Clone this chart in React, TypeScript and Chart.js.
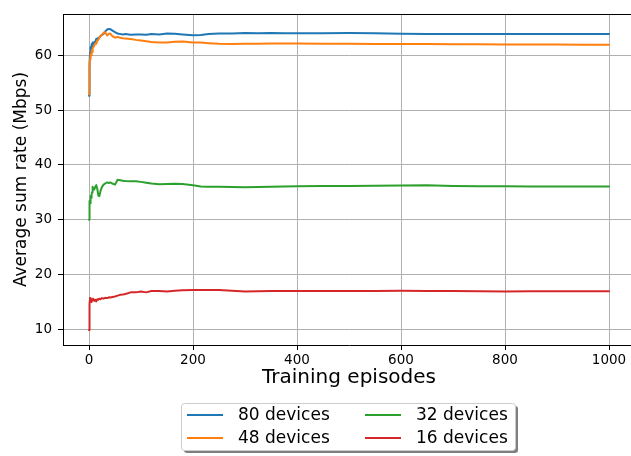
import React, { useEffect, useRef } from "react";
import { Chart, registerables } from "chart.js";

Chart.register(...registerables);

// ---------------- data ----------------
const episodes = [
  0, 1, 2, 3, 4, 5, 6, 7, 8, 10, 12, 14, 16, 18, 20, 22, 25, 28, 31, 35, 38, 41, 45, 50,
  55, 60, 65, 70, 80, 90, 100, 110, 120, 135, 150, 165, 180, 200,
  215, 230, 250, 275, 300, 325, 350, 375, 400,
  450, 500, 550, 600, 650, 700, 750, 800, 850, 900, 950, 1000,
];

const dev80 = [
  52.6, 58.5, 60.5, 61.5, 61.2, 62.0, 61.6, 62.3, 62.0, 62.4, 62.4, 63.0, 62.8, 63.2, 63.2, 63.5, 63.7, 63.9, 64.3, 64.7, 64.8, 64.75, 64.5, 64.2,
  63.95, 63.85, 63.8, 63.85, 63.75, 63.8, 63.8, 63.75, 63.85, 63.8, 63.95, 63.9, 63.8, 63.65,
  63.7, 63.85, 63.95, 63.95, 64.05, 64.0, 64.05, 64.0, 64.0,
  64.0, 64.05, 64.0, 63.9, 63.85, 63.85, 63.85, 63.85, 63.85, 63.85, 63.85, 63.85,
];

const dev48 = [
  52.9, 57.5, 59.3, 60.2, 60.0, 60.8, 60.6, 61.3, 61.4, 61.7, 62.2, 62.1, 62.7, 62.8, 63.2, 63.5, 63.7, 64.1, 64.2, 63.6, 63.9, 63.95, 63.5, 63.2,
  63.35, 63.2, 63.1, 63.05, 62.95, 62.8, 62.7, 62.55, 62.4, 62.3, 62.3, 62.45, 62.5, 62.3,
  62.3, 62.2, 62.1, 62.05, 62.1, 62.1, 62.15, 62.15, 62.15,
  62.1, 62.1, 62.05, 62.05, 62.05, 62.0, 62.0, 61.95, 61.95, 61.95, 61.9, 61.9,
];

const dev32 = [
  30.0, 33.4, 33.0, 34.3, 34.0, 34.6, 35.0, 36.0, 35.6, 35.5, 36.0, 36.3, 35.6, 34.4, 34.3, 35.2, 36.0, 36.4, 36.6, 36.8, 36.7, 36.8, 36.6, 36.4,
  37.3, 37.2, 37.1, 37.05, 37.0, 37.0, 36.9, 36.75, 36.6, 36.45, 36.5, 36.55, 36.5, 36.3,
  36.05, 36.0, 36.0, 35.95, 35.9, 35.95, 36.0, 36.05, 36.1,
  36.15, 36.15, 36.2, 36.25, 36.3, 36.15, 36.1, 36.1, 36.05, 36.05, 36.05, 36.05,
];

const dev16 = [
  9.9, 14.5, 15.7, 15.2, 15.4, 15.0, 15.5, 15.3, 15.6, 15.2, 15.4, 15.1, 15.5, 15.4, 15.6, 15.5, 15.7, 15.6, 15.75, 15.7, 15.85, 15.8, 15.9, 16.0,
  16.15, 16.3, 16.35, 16.45, 16.75, 16.75, 16.9, 16.75, 17.0, 17.0, 16.9, 17.05, 17.15, 17.2,
  17.2, 17.2, 17.2, 17.05, 16.9, 16.95, 17.0, 17.0, 17.0,
  17.0, 17.0, 17.0, 17.05, 17.0, 17.0, 16.95, 16.9, 16.95, 16.95, 16.95, 16.95,
];

const seriesValues = [dev80, dev48, dev32, dev16];
const seriesLabels = ["80 devices", "48 devices", "32 devices", "16 devices"];
const seriesColors = ["#1f77b4", "#ff7f0e", "#2ca02c", "#d62728"];

const xTicks = [0, 200, 400, 600, 800, 1000];
const yTicks = [10, 20, 30, 40, 50, 60];
const xLabel = "Training episodes";
const yLabel = "Average sum rate (Mbps)";

const FONT = "'DejaVu Sans', sans-serif";

// ---------------- plugin: top spine + framed legend ----------------
const frameLegendPlugin = {
  id: "frameLegend",
  afterDraw(chart: any) {
    const { ctx, chartArea } = chart;
    ctx.save();
    ctx.strokeStyle = "#000";
    ctx.lineWidth = 1;
    const t = Math.round(chartArea.top) + 0.5;
    ctx.beginPath();
    ctx.moveTo(chartArea.left, t);
    ctx.lineTo(chartArea.right, t);
    ctx.stroke();

    // legend box
    const bx = 181, by = 403, bw = 334, bh = 47, r = 3;
    const rr = (x: number, y: number, w: number, h: number) => {
      ctx.beginPath();
      ctx.moveTo(x + r, y);
      ctx.lineTo(x + w - r, y);
      ctx.quadraticCurveTo(x + w, y, x + w, y + r);
      ctx.lineTo(x + w, y + h - r);
      ctx.quadraticCurveTo(x + w, y + h, x + w - r, y + h);
      ctx.lineTo(x + r, y + h);
      ctx.quadraticCurveTo(x, y + h, x, y + h - r);
      ctx.lineTo(x, y + r);
      ctx.quadraticCurveTo(x, y, x + r, y);
      ctx.closePath();
    };
    ctx.fillStyle = "rgba(0,0,0,0.5)";
    rr(bx + 3, by + 3, bw, bh);
    ctx.fill();
    ctx.fillStyle = "#fff";
    rr(bx + 0.5, by + 0.5, bw, bh);
    ctx.fill();
    ctx.strokeStyle = "#cccccc";
    ctx.lineWidth = 1;
    ctx.stroke();

    const cols = [
      { lx0: 187, lx1: 223, tx: 238 },
      { lx0: 365, lx1: 401, tx: 416 },
    ];
    const rows = [415, 438];
    ctx.font = `17px ${FONT}`;
    ctx.textBaseline = "middle";
    ctx.textAlign = "left";
    seriesLabels.forEach((lab, i) => {
      const c = cols[Math.floor(i / 2)];
      const y = rows[i % 2];
      ctx.strokeStyle = seriesColors[i];
      ctx.lineWidth = 2;
      ctx.beginPath();
      ctx.moveTo(c.lx0, y);
      ctx.lineTo(c.lx1, y);
      ctx.stroke();
      ctx.fillStyle = "#000";
      ctx.fillText(lab, c.tx, y + 1);
    });
    ctx.restore();
  },
};

export default function App() {
  const ref = useRef<HTMLCanvasElement | null>(null);

  useEffect(() => {
    if (!ref.current) return;
    const datasets = seriesValues.map((vals, i) => ({
      label: seriesLabels[i],
      data: episodes.map((e, j) => ({ x: e, y: vals[j] })),
      borderColor: seriesColors[i],
      backgroundColor: seriesColors[i],
      borderWidth: 2,
      pointRadius: 0,
      tension: 0,
      fill: false,
      order: seriesValues.length - i,
    }));

    const chart = new Chart(ref.current, {
      type: "line",
      data: { datasets },
      plugins: [frameLegendPlugin],
      options: {
        responsive: false,
        animation: false,
        devicePixelRatio: 1,
        layout: { padding: { top: 4, right: 5, bottom: 66, left: 0 } },
        plugins: {
          legend: { display: false },
          tooltip: { enabled: false },
        },
        elements: { line: { borderJoinStyle: "round", borderCapStyle: "round" } },
        scales: {
          x: {
            type: "linear",
            min: -50,
            max: 1050,
            afterBuildTicks: (s: any) => {
              s.ticks = xTicks.map((v) => ({ value: v }));
            },
            afterFit: (s: any) => {
              s.height = 45;
            },
            grid: {
              color: "#b0b0b0",
              lineWidth: 1,
              tickColor: "#000",
              tickLength: 5,
              drawTicks: true,
            },
            border: { display: true, color: "#000", width: 1 },
            ticks: {
              font: { family: FONT, size: 13.5 },
              color: "#000",
              padding: 2,
              maxRotation: 0,
              autoSkip: false,
              callback: (v: any) => String(v),
            },
            title: {
              display: true,
              text: xLabel,
              font: { family: FONT, size: 20 },
              color: "#000",
              padding: { top: 0, bottom: 0 },
            },
          },
          y: {
            type: "linear",
            min: 7.15,
            max: 67.5,
            afterBuildTicks: (s: any) => {
              s.ticks = yTicks.map((v) => ({ value: v }));
            },
            afterFit: (s: any) => {
              s.width = 63;
            },
            grid: {
              color: "#b0b0b0",
              lineWidth: 1,
              tickColor: "#000",
              tickLength: 5,
              drawTicks: true,
            },
            border: { display: true, color: "#000", width: 1 },
            ticks: {
              font: { family: FONT, size: 13.5 },
              color: "#000",
              padding: 6,
              autoSkip: false,
              callback: (v: any) => String(v),
            },
            title: {
              display: true,
              text: yLabel,
              font: { family: FONT, size: 17 },
              color: "#000",
              padding: { top: 11, bottom: 0 },
            },
          },
        },
      } as any,
    });
    return () => chart.destroy();
  }, []);

  return (
    <div
      style={{
        position: "fixed",
        left: 0,
        top: 0,
        width: 631,
        height: 456,
        overflow: "hidden",
        background: "#fff",
      }}
    >
      <canvas ref={ref} width={640} height={456} style={{ width: 640, height: 456, display: "block" }} />
    </div>
  );
}
